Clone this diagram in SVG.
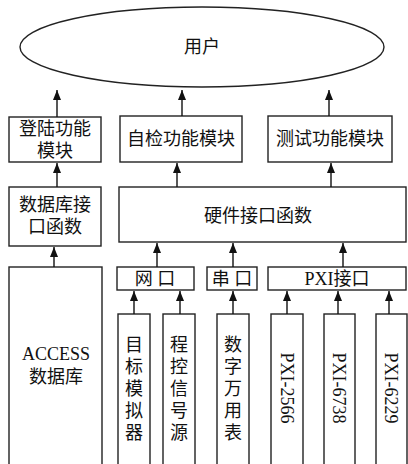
<svg xmlns="http://www.w3.org/2000/svg" width="408" height="464" viewBox="0 0 408 464">
<defs>
<marker id="ah" viewBox="0 0 10 8" refX="10" refY="4" markerWidth="10" markerHeight="8" markerUnits="userSpaceOnUse" orient="auto">
<path d="M0,0 L10,4 L0,8 Z" fill="#111"/>
</marker>
<style>
.b{fill:#fff;stroke:#222;stroke-width:1.4}
.t{font-family:"Liberation Serif","Noto Sans CJK SC",serif;font-size:18px;fill:#111;text-anchor:middle}
.c line{stroke:#111;stroke-width:1.4}
</style>
</defs>
<rect width="408" height="464" fill="#fff"/>
<g id="user"><ellipse class="b" cx="202" cy="47" rx="182" ry="40"/><text class="t" x="202" y="53">用户</text></g>
<g id="login"><rect class="b" x="9" y="117" width="92" height="45"/><text class="t" x="55" y="135">登陆功能</text><text class="t" x="55" y="157">模块</text></g>
<g id="selfcheck"><rect class="b" x="120" y="116" width="122" height="46"/><text class="t" x="181" y="145">自检功能模块</text></g>
<g id="test"><rect class="b" x="268" y="116" width="124" height="46"/><text class="t" x="330" y="145">测试功能模块</text></g>
<g id="dbif"><rect class="b" x="9" y="187" width="92" height="59"/><text class="t" x="55" y="211">数据库接</text><text class="t" x="55" y="233">口函数</text></g>
<g id="hwif"><rect class="b" x="119" y="187" width="287" height="55"/><text class="t" x="258" y="222">硬件接口函数</text></g>
<g id="access"><rect class="b" x="9" y="267" width="93" height="210"/><text class="t" x="56" y="360">ACCESS</text><text class="t" x="56" y="383">数据库</text></g>
<g id="net"><rect class="b" x="117" y="267" width="77" height="23"/><text class="t" x="155" y="285">网 口</text></g>
<g id="serial"><rect class="b" x="207" y="267" width="50" height="23"/><text class="t" x="232" y="285">串 口</text></g>
<g id="pxi"><rect class="b" x="268" y="267" width="138" height="23"/><text class="t" x="337" y="285">PXI接口</text></g>
<g id="target"><rect class="b" x="118" y="314" width="32" height="160"/><text class="t" x="134" y="351">目</text><text class="t" x="134" y="373">标</text><text class="t" x="134" y="395">模</text><text class="t" x="134" y="417">拟</text><text class="t" x="134" y="439">器</text></g>
<g id="siggen"><rect class="b" x="163" y="314" width="32" height="160"/><text class="t" x="179" y="351">程</text><text class="t" x="179" y="373">控</text><text class="t" x="179" y="395">信</text><text class="t" x="179" y="417">号</text><text class="t" x="179" y="439">源</text></g>
<g id="dmm"><rect class="b" x="217" y="314" width="32" height="160"/><text class="t" x="233" y="351">数</text><text class="t" x="233" y="373">字</text><text class="t" x="233" y="395">万</text><text class="t" x="233" y="417">用</text><text class="t" x="233" y="439">表</text></g>
<g id="pxi2566"><rect class="b" x="271" y="314" width="32" height="160"/><text class="t" transform="translate(281,388) rotate(90)" x="0" y="0" font-size="19">PXI-2566</text></g>
<g id="pxi6738"><rect class="b" x="324" y="314" width="31" height="160"/><text class="t" transform="translate(333,388) rotate(90)" x="0" y="0" font-size="19">PXI-6738</text></g>
<g id="pxi6229"><rect class="b" x="376" y="314" width="31" height="160"/><text class="t" transform="translate(385,388) rotate(90)" x="0" y="0" font-size="19">PXI-6229</text></g>
<g class="c" id="connectors">
<line x1="57" y1="117" x2="57" y2="90" marker-end="url(#ah)"/>
<line x1="182" y1="116" x2="182" y2="90" marker-end="url(#ah)"/>
<line x1="329" y1="116" x2="329" y2="90" marker-end="url(#ah)"/>
<line x1="57" y1="187" x2="57" y2="163" marker-end="url(#ah)"/>
<line x1="177" y1="187" x2="177" y2="163" marker-end="url(#ah)"/>
<line x1="331" y1="187" x2="331" y2="163" marker-end="url(#ah)"/>
<line x1="54" y1="267" x2="54" y2="247" marker-end="url(#ah)"/>
<line x1="157" y1="267" x2="157" y2="243" marker-end="url(#ah)"/>
<line x1="233" y1="267" x2="233" y2="243" marker-end="url(#ah)"/>
<line x1="343" y1="267" x2="343" y2="243" marker-end="url(#ah)"/>
<line x1="134" y1="314" x2="134" y2="291" marker-end="url(#ah)"/>
<line x1="180" y1="314" x2="180" y2="291" marker-end="url(#ah)"/>
<line x1="233" y1="314" x2="233" y2="291" marker-end="url(#ah)"/>
<line x1="287" y1="314" x2="287" y2="291" marker-end="url(#ah)"/>
<line x1="338" y1="314" x2="338" y2="291" marker-end="url(#ah)"/>
<line x1="389" y1="314" x2="389" y2="291" marker-end="url(#ah)"/>
</g>
</svg>
